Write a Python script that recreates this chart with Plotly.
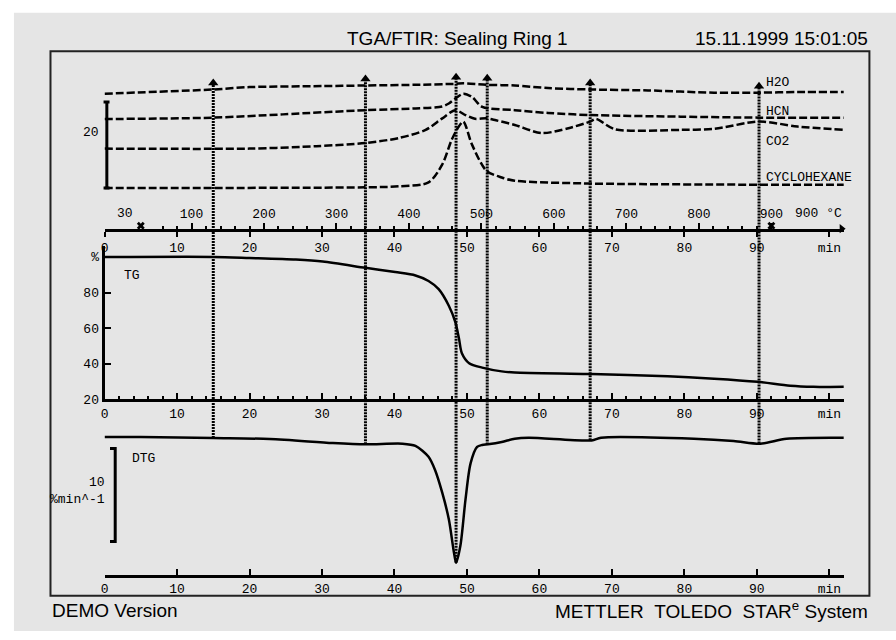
import numpy as np
import plotly.graph_objects as go

W, H = 896, 640

# ---------------- measurement data ----------------
# TG: time [min] / residual mass [%]
tg_time = [0, 15.0, 20.0, 26.4, 30.1, 36.0, 40.1, 42.9, 44.7, 46.1, 47.5, 48.4, 48.9, 49.3,
           50.3, 52.1, 54.8, 56.6, 67.2, 77.7, 84.1, 90.1, 94.6, 97.8, 102.0]
tg_mass = [99.9, 100.0, 99.4, 98.5, 97.4, 93.9, 91.5, 89.6, 86.5, 81.9, 72.6, 63.4, 54.2, 45.9,
           40.3, 37.8, 35.7, 35.1, 34.2, 32.9, 31.6, 29.8, 27.6, 27.0, 27.1]

# DTG: time [min] / mass-loss rate [%/min]
dtg_time = [0, 5.0, 15.0, 22.8, 31.5, 36.0, 41.1, 42.9, 44.7, 45.6, 46.6, 47.5, 48.2, 48.5,
            49.1, 49.8, 50.5, 51.4, 52.1, 52.9, 54.8, 56.6, 58.5, 67.2, 68.5, 81.3, 86.8,
            90.5, 94.1, 102.0]
dtg_rate = [0.0, 0.0, -0.11, -0.21, -0.64, -0.78, -0.71, -0.95, -2.12, -3.54, -6.01, -8.84,
            -12.38, -13.51, -11.66, -6.72, -2.83, -1.06, -0.85, -0.78, -0.53, -0.18, -0.07,
            -0.36, -0.07, -0.18, -0.42, -0.71, -0.18, -0.07]

# FTIR chemigrams (stacked, absorbance units)
h2o_time = [0, 15.0, 20.0, 30.1, 36.0, 42.9, 48.4, 49.5, 52.7, 56.6, 61.2, 66.9, 75.0, 84.1,
            90.3, 95.6, 102.0]
h2o_abs = [31.38, 32.36, 32.91, 33.14, 33.28, 33.44, 33.67, 33.78, 33.44, 33.28, 32.68, 32.36,
           32.13, 31.61, 31.61, 31.77, 31.77]

hcn_time = [0, 15.0, 24.6, 36.0, 42.9, 46.6, 47.5, 48.4, 49.5, 50.7, 52.1, 56.6, 61.2, 67.0,
            79.5, 90.3, 102.0]
hcn_abs = [25.49, 25.81, 26.57, 27.55, 27.94, 28.40, 29.09, 30.23, 31.38, 30.62, 28.33, 27.55,
           26.90, 26.41, 26.04, 25.81, 25.81]

co2_time = [0, 20.0, 29.2, 36.0, 40.6, 44.3, 46.6, 48.4, 49.8, 51.1, 52.7, 54.0, 56.6, 60.3,
            64.0, 67.0, 67.8, 70.4, 79.5, 84.1, 90.3, 95.6, 102.0]
co2_abs = [18.62, 18.62, 19.17, 19.93, 21.07, 22.97, 25.65, 27.55, 26.41, 25.54, 25.65, 25.19,
           24.12, 22.22, 23.36, 24.90, 25.49, 23.13, 22.97, 23.20, 24.90, 23.75, 22.97]

cyc_time = [0, 36.0, 40.6, 44.7, 46.6, 47.9, 48.9, 49.5, 50.7, 52.7, 54.8, 56.6, 65.8, 88.7, 102.0]
cyc_abs = [9.46, 9.62, 9.85, 10.77, 14.96, 20.68, 23.82, 24.90, 19.54, 13.44, 11.91, 11.15,
           10.54, 10.24, 10.24]

gas_names = ["H2O", "HCN", "CO2", "CYCLOHEXANE"]

# times at which IR spectra were evaluated [min]
spectrum_times = [15.0, 36.0, 48.5, 52.8, 67.0, 90.3]

# temperature program
temp_start = 30
temp_end = 900
heating_rate = 10      # K/min
iso_start = 5          # min held at start temperature
temp_labels = [100, 200, 300, 400, 500, 600, 700, 800, 900]

# axis ticks
minute_ticks = [0, 10, 20, 30, 40, 50, 60, 70, 80, 90, 100]
minute_labels = ["0", "10", "20", "30", "40", "50", "60", "70", "80", "90", "min"]
tg_ticks = [20, 40, 60, 80, 100]
tg_labels = ["20", "40", "60", "80", "%"]

# scale bars
ftir_bar_base, ftir_bar_len = 9.46, 20
dtg_bar_top, dtg_bar_len = -1.24, 10

# ---------------- geometry ----------------
def px_x(p):
    return p / W


def px_y(p):
    return 1 - p / H


X_DOM = [px_x(101), px_x(843.6)]
T_RANGE = [0, 102]
Y3_DOM, Y3_RANGE = [px_y(232), px_y(60)], [0, 39.40]      # FTIR
Y2_DOM, Y2_RANGE = [px_y(405), px_y(250)], [20, 105.87]   # TG
Y1_DOM, Y1_RANGE = [px_y(582.7), px_y(430)], [-14.78, 1.41]  # DTG


def to_paper(v, rng, dom):
    return dom[0] + (v - rng[0]) / (rng[1] - rng[0]) * (dom[1] - dom[0])


def temp_to_time(T):
    return iso_start + (T - temp_start) / heating_rate


mono = dict(family="Liberation Mono", size=13, color="black")
sans = dict(family="Liberation Sans", size=19, color="black")

fig = go.Figure()

# FTIR traces
for t, a in zip([h2o_time, hcn_time, co2_time, cyc_time], [h2o_abs, hcn_abs, co2_abs, cyc_abs]):
    fig.add_trace(go.Scatter(x=t, y=a, mode="lines", xaxis="x3", yaxis="y3",
                             line=dict(color="black", width=2.5, dash="8px,3px", shape="spline",
                                       smoothing=0.8),
                             hoverinfo="skip"))

# TG / DTG
fig.add_trace(go.Scatter(x=tg_time, y=tg_mass, mode="lines", xaxis="x2", yaxis="y2",
                         line=dict(color="black", width=2.5, shape="spline", smoothing=0.8)))
fig.add_trace(go.Scatter(x=dtg_time, y=dtg_rate, mode="lines", xaxis="x", yaxis="y",
                         line=dict(color="black", width=2.5, shape="spline", smoothing=0.8)))

# spectrum markers: dotted line from DTG curve up to an arrowhead above the H2O trace
tips = [float(np.interp(t, h2o_time, h2o_abs)) + 1.5 for t in spectrum_times]
shapes = []
for t, tip in zip(spectrum_times, tips):
    y_bot = to_paper(float(np.interp(t, dtg_time, dtg_rate)), Y1_RANGE, Y1_DOM)
    y_top = to_paper(tip, Y3_RANGE, Y3_DOM)
    shapes.append(dict(type="line", xref="x", yref="paper", x0=t, x1=t, y0=y_bot, y1=y_top,
                       line=dict(color="black", width=3, dash="2px,1px"), layer="above"))
fig.add_trace(go.Scatter(x=spectrum_times, y=tips, mode="markers", xaxis="x3", yaxis="y3",
                         marker=dict(symbol="triangle-up", size=9, color="black"),
                         cliponaxis=False))

# temperature program markers (end of isothermal segments) and axis arrow
iso_marks = [temp_to_time(temp_start), temp_to_time(temp_end)]
fig.add_trace(go.Scatter(x=iso_marks, y=[0.7, 0.7], mode="markers", xaxis="x4", yaxis="y3",
                         marker=dict(symbol="x", size=7, color="black", line=dict(width=0)),
                         cliponaxis=False))
fig.add_trace(go.Scatter(x=[T_RANGE[1] - 0.3], y=[0], mode="markers", xaxis="x3", yaxis="y3",
                         marker=dict(symbol="triangle-right", size=8, color="black"),
                         cliponaxis=False))

# background and frame
shapes.insert(0, dict(type="rect", xref="paper", yref="paper", x0=px_x(10), x1=1,
                      y0=0, y1=px_y(13), fillcolor="#e5e5e5", line=dict(width=0), layer="below"))
shapes.append(dict(type="rect", xref="paper", yref="paper", x0=px_x(46.7), x1=px_x(869.3),
                   y0=px_y(604.3), y1=px_y(52), line=dict(color="#222", width=2), layer="above"))

# scale bars
fx_bar, fx_l, fx_r = px_x(103.3), px_x(100), px_x(106)
shapes.append(dict(type="path", xref="paper", yref="y3",
                   path=f"M {fx_l} {ftir_bar_base + ftir_bar_len} L {fx_r} {ftir_bar_base + ftir_bar_len} "
                        f"M {fx_bar} {ftir_bar_base + ftir_bar_len} L {fx_bar} {ftir_bar_base} "
                        f"M {fx_l} {ftir_bar_base} L {fx_r} {ftir_bar_base}",
                   line=dict(color="black", width=3)))
dx_bar, dx_l = px_x(111.7), px_x(106.5)
shapes.append(dict(type="path", xref="paper", yref="y",
                   path=f"M {dx_l} {dtg_bar_top} L {dx_bar} {dtg_bar_top} "
                        f"L {dx_bar} {dtg_bar_top - dtg_bar_len} L {dx_l} {dtg_bar_top - dtg_bar_len}",
                   line=dict(color="black", width=3)))

annotations = [
    dict(text="TGA/FTIR: Sealing Ring 1", x=px_x(456), y=px_y(39), xref="paper", yref="paper",
         showarrow=False, font=sans, xanchor="center", yanchor="middle"),
    dict(text="15.11.1999 15:01:05", x=px_x(870), y=px_y(39), xref="paper", yref="paper",
         showarrow=False, font=sans, xanchor="right", yanchor="middle"),
    dict(text="DEMO Version", x=px_x(46), y=px_y(619), xref="paper", yref="paper",
         showarrow=False, font=sans, xanchor="left", yanchor="middle"),
    dict(text="METTLER\u00a0\u00a0TOLEDO\u00a0\u00a0STAR<sup>e</sup>\u00a0System", x=px_x(870),
         y=px_y(619), xref="paper", yref="paper", showarrow=False, font=sans,
         xanchor="right", yanchor="middle"),
    dict(text="20", x=px_x(97), y=22.38, xref="paper", yref="y3", showarrow=False, font=mono,
         xanchor="right", yanchor="middle"),
    dict(text="10", x=px_x(103.5), y=-4.85, xref="paper", yref="y", showarrow=False, font=mono,
         xanchor="right", yanchor="middle"),
    dict(text="%min^-1", x=px_x(103.5), y=-6.75, xref="paper", yref="y", showarrow=False,
         font=mono, xanchor="right", yanchor="middle"),
    dict(text="TG", x=2.47, y=89.8, xref="x2", yref="y2", showarrow=False, font=mono,
         xanchor="left", yanchor="middle"),
    dict(text="DTG", x=3.53, y=-2.30, xref="x", yref="y", showarrow=False, font=mono,
         xanchor="left", yanchor="middle"),
    dict(text=str(temp_start), x=2.84, y=px_y(217), xref="x3", yref="paper", showarrow=False,
         font=mono, xanchor="center", yanchor="middle"),
    dict(text=f"{temp_end} °C", x=98.5, y=px_y(217), xref="x3", yref="paper", showarrow=False,
         font=mono, xanchor="center", yanchor="middle"),
]
label_levels = [33.9, 27.33, 20.31, 11.91]
for name, lev in zip(gas_names, label_levels):
    annotations.append(dict(text=name, x=90.95, y=lev, xref="x3", yref="y3", showarrow=False,
                            font=mono, xanchor="left", yanchor="middle"))

axis_common = dict(domain=X_DOM, range=T_RANGE, showline=True, linewidth=3, linecolor="black",
                   tickmode="array", tickvals=minute_ticks, ticktext=minute_labels,
                   tickfont=mono, tickcolor="black", tickwidth=2, showgrid=False, zeroline=False)

temp_ticks = [temp_to_time(T) for T in temp_labels]
temp_minor = [temp_to_time(T) for T in range(temp_start + 30, temp_end, 20) if T % 100]

fig.update_layout(
    width=W, height=H, margin=dict(l=0, r=0, t=0, b=0),
    paper_bgcolor="white", plot_bgcolor="rgba(0,0,0,0)", showlegend=False,
    xaxis=dict(axis_common, anchor="y", ticks="inside", ticklen=6),
    xaxis2=dict(axis_common, anchor="y2", ticks="inside", ticklen=6,
                minor=dict(ticks="inside", ticklen=3, tickwidth=2, dtick=2, tick0=0,
                           tickcolor="black", showgrid=False)),
    xaxis3=dict(axis_common, anchor="y3", ticks="outside", ticklen=5),
    xaxis4=dict(domain=X_DOM, range=T_RANGE, overlaying="x3", anchor="free",
                position=Y3_DOM[0], side="top", showline=False, showgrid=False, zeroline=False,
                ticks="outside", ticklen=6, tickwidth=2, tickcolor="black",
                tickmode="array", tickvals=temp_ticks, ticktext=[str(T) for T in temp_labels],
                tickfont=mono,
                minor=dict(ticks="outside", ticklen=3, tickwidth=2, tickcolor="black",
                           tickmode="array", tickvals=temp_minor, showgrid=False)),
    yaxis=dict(domain=Y1_DOM, range=Y1_RANGE, anchor="x", visible=False),
    yaxis2=dict(domain=Y2_DOM, range=Y2_RANGE, anchor="x2", showline=True, linewidth=3,
                linecolor="black", ticks="inside", ticklen=6, tickwidth=2, tickcolor="black",
                tickmode="array", tickvals=tg_ticks, ticktext=tg_labels, tickfont=mono,
                showgrid=False, zeroline=False),
    yaxis3=dict(domain=Y3_DOM, range=Y3_RANGE, anchor="x3", visible=False),
    shapes=shapes,
    annotations=annotations,
)

fig.write_html("out.html")
